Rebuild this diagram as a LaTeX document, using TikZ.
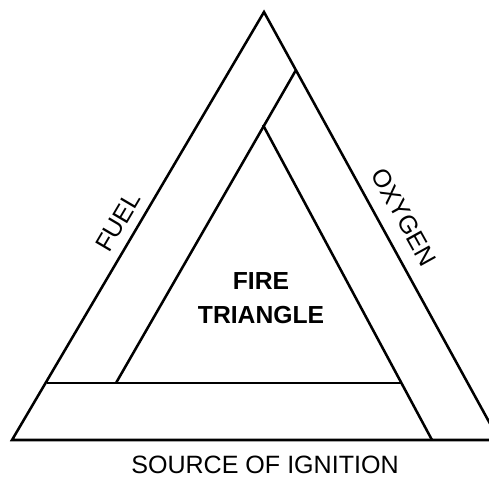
\documentclass[tikz,border=0pt]{standalone}
\usepackage{fontspec}
\setmainfont{Liberation Sans}
\begin{document}
\begin{tikzpicture}[x=0.75pt,y=-0.75pt,
  edge/.style={line width=1.9pt},
  side/.style={font=\fontsize{18.8}{22}\selectfont,inner sep=0pt},
  centre/.style={font=\bfseries\fontsize{18.5}{25}\selectfont,align=center,inner sep=0pt}]
\useasboundingbox (0,0) rectangle (489,477);
\clip (0,0) rectangle (489,477);
% outer triangle
\coordinate (top) at (264,12);
\coordinate (bl) at (12,440);
\coordinate (br) at (499,440);
% band edges
\coordinate (ox) at (296,70);
\coordinate (in) at (263,125);
\coordinate (fl) at (116,383);
\coordinate (ir) at (401,383);
\coordinate (sl) at (47,383);
\coordinate (sr) at (432,440);
\draw[edge] (top) -- (bl) -- (br) -- cycle;
\draw[edge] (ox) -- (fl);
\draw[edge] (in) -- (sr);
\draw[edge] (sl) -- (ir);
\node[side,rotate=59.5] (fuel) at (118,222) {FUEL};
\node[side,rotate=-61] (oxygen) at (404,217) {OXYGEN};
\node[centre] (fire) at (261,298) {FIRE\\TRIANGLE};
\node[side] (ignition) at (265,465) {SOURCE OF IGNITION};
\end{tikzpicture}
\end{document}
